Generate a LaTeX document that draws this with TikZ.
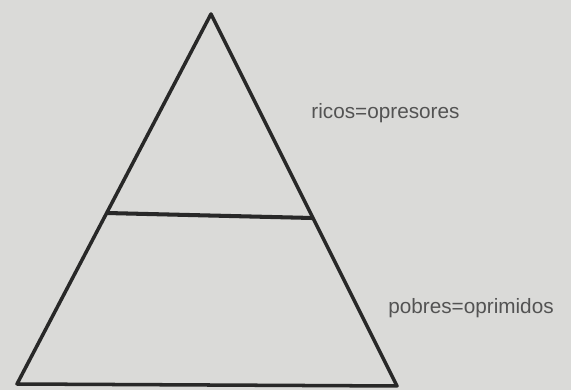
\documentclass[tikz,border=0pt]{standalone}
\usepackage{fontspec}
\setmainfont{Liberation Sans}
\usepackage{tikz}

\definecolor{paper}{RGB}{218,218,216}
\definecolor{ink}{RGB}{40,40,40}

\begin{document}
\begin{tikzpicture}[every node/.style={font=\fontsize{11.8}{14}\selectfont, text=ink!80}, line join=round]
	\fill[paper] (0,0) rectangle (11.42,7.8);
	\useasboundingbox (0,0) rectangle (11.42,7.8);
	\coordinate (apex) at (4.22,7.52);
	\coordinate (left) at (0.34,0.12);
	\coordinate (right) at (7.94,0.08);
	\coordinate (divl) at (2.12,3.54);
	\coordinate (divr) at (6.24,3.44);
	\draw[ink, line width=2pt] (apex) -- (right) -- (left) -- cycle;
	\draw[ink, line width=2.3pt] (divl) -- (divr);
	\node (ricos) at (7.71,5.54) {ricos=opresores};
	\node (pobres) at (9.42,1.64) {pobres=oprimidos};
\end{tikzpicture}
\end{document}
